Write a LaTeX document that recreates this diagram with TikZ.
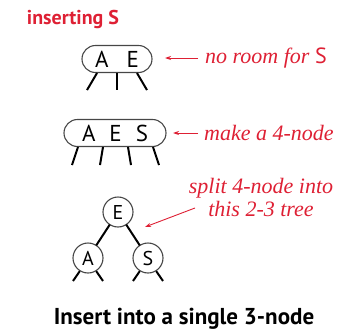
\documentclass[tikz,border=0pt]{standalone}
\usepackage{fontspec}
\setmainfont{Liberation Serif}
\setsansfont{PT Sans}
\usetikzlibrary{calc,arrows.meta}
\definecolor{notered}{RGB}{222,32,52}
\definecolor{ringgray}{RGB}{70,70,70}
\tikzset{
  keynode/.style={draw=ringgray,line width=1.1pt,rounded corners=13.5pt,
    minimum height=27pt,inner sep=0pt,font=\sffamily\fontsize{23}{23}\selectfont},
  ringnode/.style={circle,draw=ringgray,line width=1.1pt,minimum size=30pt,
    inner sep=0pt,font=\sffamily\fontsize{20}{20}\selectfont},
  leg/.style={line width=2pt,black},
  link/.style={line width=2pt,black,shorten <=-0.5pt,shorten >=-0.5pt},
  note/.style={text=notered,font=\itshape\fontsize{22}{23}\selectfont,inner sep=0pt,align=center},
  pointer/.style={notered,line width=0.9pt,-{Stealth[length=6pt,width=4pt]}},
  heading/.style={font=\sffamily\bfseries\fontsize{20}{20}\selectfont,inner sep=0pt},
}
\begin{document}
\begin{tikzpicture}[x=1pt,y=-1pt]
\useasboundingbox (0,0) rectangle (353,332);

% title
\node[heading,text=notered] (title) at (73,19) {inserting S};

% the 3-node with no room
\node[keynode,minimum width=70pt] (ae) at (117,59) {A\hspace{18pt}E};
\draw[leg] ($(ae.south)+(-20,0)$) -- ++(-10,17);
\draw[leg] (ae.south) -- ++(0,17);
\draw[leg] ($(ae.south)+(20,0)$) -- ++(10,17);
\node[note,anchor=west] (n1) at (205,58) {no room for \textup{\sffamily S}};
\coordinate (n1tip) at (165,58);
\draw[pointer] (n1.west)++(-7,0) -- (n1tip);

% the temporary 4-node
\node[keynode,minimum width=102pt] (aes) at (115,133) {A\hspace{14pt}E\hspace{14pt}S};
\draw[leg] ($(aes.south)+(-37,0)$) -- ++(-6,18);
\draw[leg] ($(aes.south)+(-12,0)$) -- ++(-3,18);
\draw[leg] ($(aes.south)+(13,0)$) -- ++(3,18);
\draw[leg] ($(aes.south)+(38,0)$) -- ++(6,18);
\node[note,anchor=west] (n2) at (204,133) {make a 4-node};
\coordinate (n2tip) at (173,133);
\draw[pointer] (n2.west)++(-6,0) -- (n2tip);

% the resulting 2-3 tree
\node[ringnode] (e) at (118,212) {E};
\node[ringnode] (a) at (88,258) {A};
\node[ringnode] (s) at (148,258) {S};
\draw[link] (e) -- (a);
\draw[link] (e) -- (s);
\draw[leg] (a.-122) -- (73,281);
\draw[leg] (a.-58) -- (103,281);
\draw[leg] (s.-122) -- (133,281);
\draw[leg] (s.-58) -- (163,281);
\node[note] (n3) at (261,197) {split 4-node into\\this 2-3 tree};
\coordinate (n3tail) at (195,208);
\coordinate (n3tip) at (145,227);
\draw[pointer] (n3tail) -- (n3tip);

% caption
\node[heading,font=\sffamily\bfseries\fontsize{23}{23}\selectfont] (cap) at (184,319) {Insert into a single 3-node};
\end{tikzpicture}
\end{document}
